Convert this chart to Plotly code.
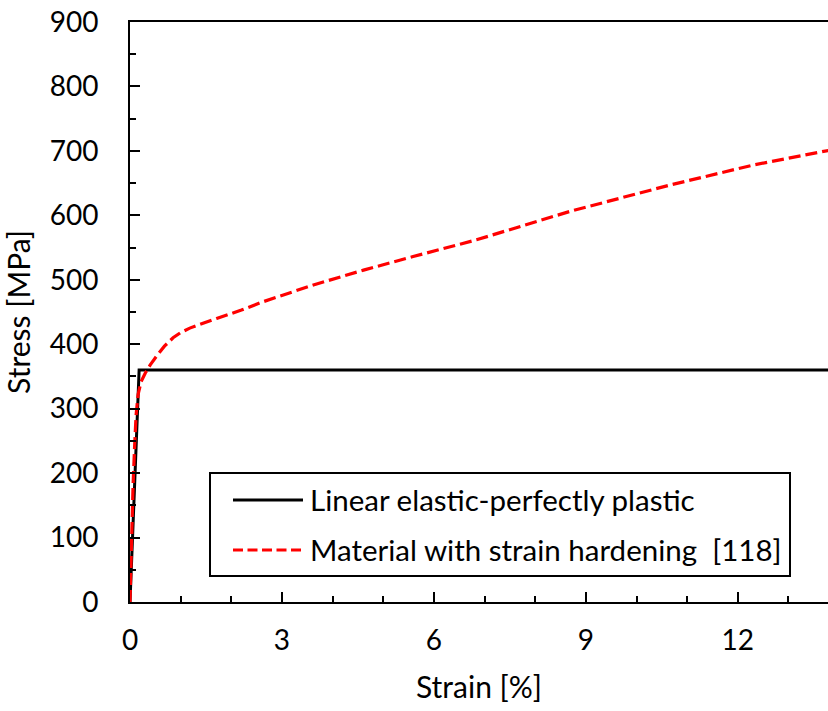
import plotly.graph_objects as go

# Linear elastic-perfectly plastic model
elastic_strain = [0, 0.18, 15]
elastic_stress = [0, 360, 360]

# Material with strain hardening [118]
hard_strain = [0, 0.03, 0.06, 0.09, 0.12, 0.16, 0.22, 0.30, 0.40, 0.53, 0.68, 0.85, 1.0, 1.18,
               1.45, 1.71, 2.2, 2.63, 3.62, 4.61, 5.59, 6.84, 8.68, 10.66, 12.30, 13.78, 14.2]
hard_stress = [0, 105, 180, 240, 290, 322, 342, 355, 368, 382, 397, 410, 418, 425,
               433, 440, 453, 466, 492, 515, 536, 562, 606, 647, 678, 701, 707]

x_ticks = [0, 3, 6, 9, 12]
y_ticks = [0, 100, 200, 300, 400, 500, 600, 700, 800, 900]

legend_labels = ["Linear elastic-perfectly plastic", "Material with strain hardening"]
ref_label = "[118]"

FONT = "Lato"
W, H = 828, 711
L, T, B = 130, 22, 109
PW, PH = W - L, H - T - B


def px(x):
    return (x - L) / PW


def py(y):
    return (H - B - y) / PH


fig = go.Figure()
fig.add_trace(go.Scatter(x=elastic_strain, y=elastic_stress, mode="lines",
                         line=dict(color="black", width=3), name=legend_labels[0]))
fig.add_trace(go.Scatter(x=hard_strain, y=hard_stress, mode="lines",
                         line=dict(color="#ff0000", width=3.2, dash="12px,5px"),
                         name=legend_labels[1]))

# custom legend (box, samples, labels)
fig.add_shape(type="rect", xref="paper", yref="paper",
              x0=px(210), x1=px(790), y0=py(576), y1=py(473),
              line=dict(color="black", width=2), fillcolor="white", layer="above")
fig.add_shape(type="line", xref="paper", yref="paper",
              x0=px(233), x1=px(303), y0=py(500), y1=py(500),
              line=dict(color="black", width=3))
fig.add_shape(type="line", xref="paper", yref="paper",
              x0=px(233), x1=px(303), y0=py(550), y1=py(550),
              line=dict(color="#ff0000", width=3, dash="10px,4.5px"))
fig.add_annotation(xref="paper", yref="paper", x=px(308), y=py(499),
                   text=legend_labels[0], showarrow=False, xanchor="left", yanchor="middle",
                   font=dict(family=FONT, size=29.5, color="black"))
fig.add_annotation(xref="paper", yref="paper", x=px(308), y=py(549),
                   text=legend_labels[1] + "  " + ref_label, showarrow=False, xanchor="left",
                   yanchor="middle", font=dict(family=FONT, size=29.5, color="black"))

fig.update_layout(
    width=W, height=H,
    margin=dict(l=L, r=0, t=T, b=B),
    plot_bgcolor="white", paper_bgcolor="white",
    showlegend=False,
    font=dict(family=FONT, size=28, color="black"),
)
fig.update_xaxes(
    range=[0, 13.78], tickvals=x_ticks, ticktext=[str(v) for v in x_ticks],
    ticks="inside", ticklen=10, tickwidth=2, tickcolor="black",
    minor=dict(dtick=1, ticks="inside", ticklen=6, tickwidth=2, tickcolor="black"),
    showline=True, linecolor="black", linewidth=2, mirror=True,
    showgrid=False, zeroline=False, ticklabelstandoff=12,
    title=dict(text="Strain [%]", standoff=22, font=dict(size=30)),
    tickfont=dict(size=28),
)
fig.update_yaxes(
    range=[0, 900], tickvals=y_ticks, ticktext=[str(v) for v in y_ticks],
    ticks="inside", ticklen=10, tickwidth=2, tickcolor="black",
    minor=dict(dtick=50, ticks="inside", ticklen=6, tickwidth=2, tickcolor="black"),
    showline=True, linecolor="black", linewidth=2,
    showgrid=False, zeroline=False, ticklabelstandoff=24,
    title=dict(text="Stress [MPa]", standoff=11, font=dict(size=30)),
    tickfont=dict(size=28),
)

fig.write_html("out.html", config={"displayModeBar": False},
               post_script="document.body.style.margin='0';")
